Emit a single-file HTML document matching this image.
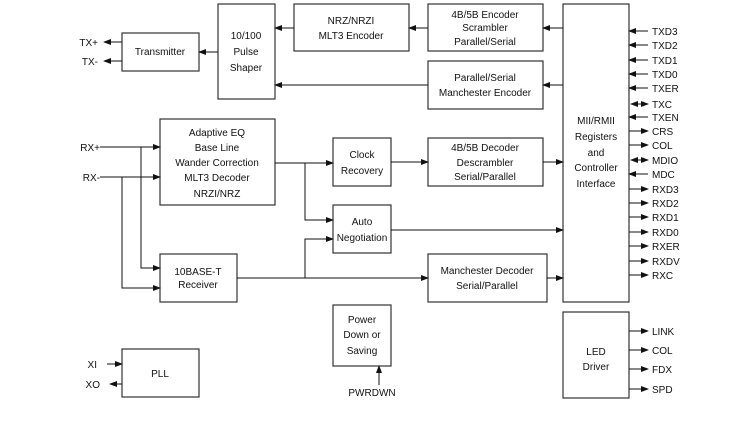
<!DOCTYPE html><html><head><style>body{margin:0;background:#fff}svg{display:block}text{font-family:"Liberation Sans",Arial,sans-serif;font-size:10px;fill:#111}</style></head><body>
<svg width="735" height="425" viewBox="0 0 735 425" xmlns="http://www.w3.org/2000/svg">
<defs><marker id="a" markerWidth="8" markerHeight="6" refX="7" refY="3" orient="auto" markerUnits="userSpaceOnUse"><path d="M0,0L8,3L0,6z" fill="#111"/></marker>
<marker id="b" markerWidth="8" markerHeight="6" refX="1" refY="3" orient="auto" markerUnits="userSpaceOnUse"><path d="M8,0L0,3L8,6z" fill="#111"/></marker></defs>
<g fill="none" stroke="#333" stroke-width="1.2">
<rect x="122" y="33" width="77" height="38"/>
<rect x="218" y="4" width="57" height="95"/>
<rect x="294" y="4" width="115" height="47"/>
<rect x="428" y="4" width="115" height="47"/>
<rect x="428" y="61" width="115" height="48"/>
<rect x="563" y="4" width="66" height="298"/>
<rect x="563" y="312" width="66" height="86"/>
<rect x="160" y="119" width="115" height="86"/>
<rect x="333" y="138" width="58" height="48"/>
<rect x="428" y="138" width="115" height="48"/>
<rect x="333" y="205" width="58" height="48"/>
<rect x="160" y="254" width="77" height="48"/>
<rect x="428" y="254" width="119" height="48"/>
<rect x="333" y="305" width="58" height="61"/>
<rect x="122" y="349" width="77" height="48"/>
</g>
<g stroke="#111" stroke-width="1" fill="none" marker-end="url(#a)">
<path d="M563,28H543"/><path d="M428,28H409"/><path d="M294,28H275"/>
<path d="M563,85H543"/><path d="M428,85H275"/>
<path d="M218,52H199"/><path d="M122,42H104"/><path d="M122,61H104"/>
<path d="M100,147H160"/><path d="M100,177H160"/>
<path d="M141,147V268H160"/><path d="M122,177V288H160"/>
<path d="M275,163H333"/><path d="M305,163V220H333"/>
<path d="M391,162H428"/><path d="M543,162H563"/>
<path d="M237,278H428"/><path d="M305,278V239H333"/>
<path d="M391,230H563"/><path d="M547,278H563"/>
<path d="M379,385V366"/>
<path d="M107,364H122"/><path d="M122,384H110"/>
<path d="M648,31H629"/><path d="M648,45H629"/><path d="M648,60H629"/><path d="M648,74H629"/><path d="M648,88H629"/>
<path d="M631,104H648" marker-start="url(#b)"/><path d="M648,117H629"/>
<path d="M629,131H648"/><path d="M629,145H648"/>
<path d="M631,160H648" marker-start="url(#b)"/><path d="M648,174H629"/>
<path d="M629,189H648"/><path d="M629,203H648"/><path d="M629,217H648"/><path d="M629,232H648"/><path d="M629,246H648"/><path d="M629,261H648"/><path d="M629,275H648"/>
<path d="M629,331H648"/><path d="M629,350H648"/><path d="M629,369H648"/><path d="M629,389H648"/>
</g>
<g text-anchor="middle">
<text x="160" y="55">Transmitter</text>
<text x="246" y="39">10/100</text><text x="246" y="55">Pulse</text><text x="246" y="71">Shaper</text>
<text x="351" y="24">NRZ/NRZI</text><text x="351" y="39">MLT3 Encoder</text>
<text x="485" y="18">4B/5B Encoder</text><text x="485" y="31">Scrambler</text><text x="485" y="45">Parallel/Serial</text>
<text x="485" y="81">Parallel/Serial</text><text x="485" y="96">Manchester Encoder</text>
<text x="596" y="124">MII/RMII</text><text x="596" y="140">Registers</text><text x="596" y="156">and</text><text x="596" y="171">Controller</text><text x="596" y="187">Interface</text>
<text x="217" y="136">Adaptive EQ</text><text x="217" y="151">Base Line</text><text x="217" y="166">Wander Correction</text><text x="217" y="181">MLT3 Decoder</text><text x="217" y="197">NRZI/NRZ</text>
<text x="362" y="158">Clock</text><text x="362" y="174">Recovery</text>
<text x="485" y="151">4B/5B Decoder</text><text x="485" y="166">Descrambler</text><text x="485" y="180">Serial/Parallel</text>
<text x="362" y="225">Auto</text><text x="362" y="241">Negotiation</text>
<text x="198" y="275">10BASE-T</text><text x="198" y="288">Receiver</text>
<text x="487" y="274">Manchester Decoder</text><text x="487" y="289">Serial/Parallel</text>
<text x="362" y="323">Power</text><text x="362" y="338">Down or</text><text x="362" y="354">Saving</text>
<text x="372" y="396">PWRDWN</text>
<text x="160" y="377">PLL</text>
<text x="596" y="355">LED</text><text x="596" y="370">Driver</text>
</g>
<g text-anchor="end"><text x="98" y="46">TX+</text><text x="98" y="65">TX-</text><text x="100" y="151">RX+</text><text x="100" y="181">RX-</text><text x="97" y="368">XI</text><text x="100" y="388">XO</text></g>
<g><text x="652" y="35">TXD3</text><text x="652" y="49">TXD2</text><text x="652" y="64">TXD1</text><text x="652" y="78">TXD0</text><text x="652" y="92">TXER</text><text x="652" y="108">TXC</text><text x="652" y="121">TXEN</text><text x="652" y="135">CRS</text><text x="652" y="149">COL</text><text x="652" y="164">MDIO</text><text x="652" y="178">MDC</text><text x="652" y="193">RXD3</text><text x="652" y="207">RXD2</text><text x="652" y="221">RXD1</text><text x="652" y="236">RXD0</text><text x="652" y="250">RXER</text><text x="652" y="265">RXDV</text><text x="652" y="279">RXC</text>
<text x="652" y="335">LINK</text><text x="652" y="354">COL</text><text x="652" y="373">FDX</text><text x="652" y="393">SPD</text></g>
</svg></body></html>
